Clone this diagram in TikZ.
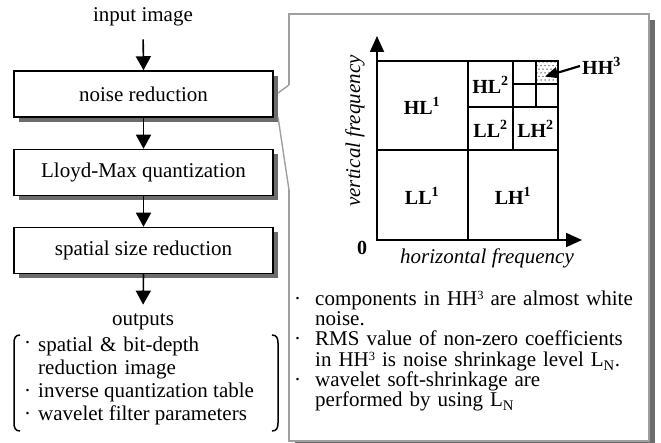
\documentclass[tikz,border=0pt]{standalone}
\usepackage{fontspec}
\setmainfont{Liberation Serif}
\usetikzlibrary{arrows.meta,shadows}
\newcommand{\bulletmark}{\makebox[22pt][l]{\hspace*{1pt}\textperiodcentered}}
\newcommand{\bulletgap}{\hspace*{22pt}}
\newcommand{\supthree}{\raisebox{6pt}{\fontsize{12.5}{12.5}\selectfont 3}}
\begin{document}
\begin{tikzpicture}[x=1pt,y=-1pt,
  every node/.style={font=\fontsize{21}{24}\selectfont, inner sep=0pt},
  flowbox/.style={draw=black, line width=1.5pt, fill=white, minimum width=259pt, minimum height=46pt,
    drop shadow={opacity=1, fill=gray!85!black, shadow xshift=5pt, shadow yshift=-5pt}},
  flowarrow/.style={line width=1.6pt, -{Triangle[length=14pt,width=15pt]}},
  axisarrow/.style={line width=1.8pt, -{Triangle[length=16pt,width=14pt]}},
  gridline/.style={line width=1.5pt},
  band/.style={font=\fontsize{20}{24}\selectfont\bfseries},
  bullettext/.style={anchor=mid west},
  block/.style={anchor=base west, align=left, text width=#1},
  panelline/.style={draw=gray!75, line width=1.4pt},
  bracket/.style={line width=1.5pt}
]
\useasboundingbox (0,0) rectangle (661,443);

% ---------------- left flow ----------------
\node (inp) at (143,17) {input image};
\node[flowbox] (nr) at (143.5,94) {noise reduction};
\node[flowbox] (lm) at (143.5,172.5) {Lloyd-Max quantization};
\node[flowbox] (sr) at (143.5,250.5) {spatial size reduction};
\node (out) at (143,322) {outputs};

\draw[flowarrow, shorten <=13pt] (inp.south) -- (nr.north);
\draw[flowarrow] (nr.south) -- (lm.north);
\draw[flowarrow] (lm.south) -- (sr.north);
\draw[flowarrow, shorten >=9pt] (sr.south) -- (out.north);

\draw[bracket] (20,335) .. controls (15.5,335) and (14,338) .. (14,343) -- (14,423) .. controls (14,428) and (15.5,431) .. (20,431);
\draw[bracket] (272,335) .. controls (276.5,335) and (278,338) .. (278,343) -- (278,423) .. controls (278,428) and (276.5,431) .. (272,431);

\node[bullettext] (ob1) at (24,347) {\textperiodcentered};
\node[block=235pt, font=\fontsize{21}{23}\selectfont] (o1) at (38,352) {spatial \& bit-depth\\reduction image};
\node[bullettext] (ob3) at (24,395) {\textperiodcentered};
\node[bullettext] (o3) at (38,395) {inverse quantization table};
\node[bullettext] (ob4) at (24,418) {\textperiodcentered};
\node[bullettext] (o4) at (38,418) {wavelet filter parameters};

% ---------------- right panel ----------------
\fill[gray!85!black] (649,20) rectangle (655,447);
\fill[gray!85!black] (295,441) rectangle (655,447);
\fill[white] (289,14) rectangle (649,441);
\draw[panelline] (289,85) -- (289,14) -- (649,14) -- (649,441) -- (289,441) -- (289,190);
\coordinate (pa) at (289,85);
\coordinate (pb) at (289,190);
\coordinate (ta) at (278,93);
\coordinate (tb) at (278,117);
\draw[panelline] (pa) -- (ta);
\draw[panelline] (pb) -- (tb);

% chart
\coordinate (o) at (377,240);
\coordinate (ytip) at (377,36);
\coordinate (xtip) at (582,240);
\begin{scope}
  \clip (536,61) rectangle (558,84);
  \foreach \i in {0,...,6} \foreach \j in {0,...,6}
    \fill[gray!60!black] ({535+\i*4+mod(\j,2)*2},{62+\j*3.6}) circle (0.75pt);
\end{scope}
\draw[gridline] (377,61) rectangle (558,240);
\draw[gridline] (468,61) -- (468,240);
\draw[gridline] (377,150) -- (558,150);
\draw[gridline] (513,61) -- (513,150);
\draw[gridline] (468,107) -- (558,107);
\draw[gridline] (536,61) -- (536,107);
\draw[gridline] (513,84) -- (558,84);
\draw[axisarrow] (o) -- (ytip);
\draw[axisarrow] (o) -- (xtip);

\node[band] (hl1) at (422,106) {HL\textsuperscript{1}};
\node[band] (ll1) at (422,196) {LL\textsuperscript{1}};
\node[band] (lh1) at (513,196) {LH\textsuperscript{1}};
\node[band] (hl2) at (490.5,85) {HL\textsuperscript{2}};
\node[band] (ll2) at (490.5,129) {LL\textsuperscript{2}};
\node[band] (lh2) at (535.5,129) {LH\textsuperscript{2}};
\node[band, anchor=west] (hh3) at (582,66) {HH\textsuperscript{3}};
\coordinate (hh3tip) at (545,76.5);
\draw[line width=2.2pt, -{Triangle[length=13pt,width=11pt]}] (hh3.west) ++(-2,0) -- (hh3tip);

\node[band] (zero) at (362,248) {0};
\node[font=\fontsize{21}{24}\selectfont\itshape] (hf) at (487,258) {horizontal frequency};
\node[font=\fontsize{21}{24}\selectfont\itshape, rotate=90] (vf) at (355,131) {vertical frequency};

% notes
\node[block=355pt, font=\fontsize{21}{20}\selectfont] (notes) at (293,306)
  {\bulletmark components in HH\supthree{} are almost white\\
   \bulletgap noise.\\
   \bulletmark RMS value of non-zero coefficients\\[1pt]
   \bulletgap in HH\supthree{} is noise shrinkage level L\textsubscript{N}.\\
   \bulletmark wavelet soft-shrinkage are\\
   \bulletgap performed by using L\textsubscript{N}};
\end{tikzpicture}
\end{document}
